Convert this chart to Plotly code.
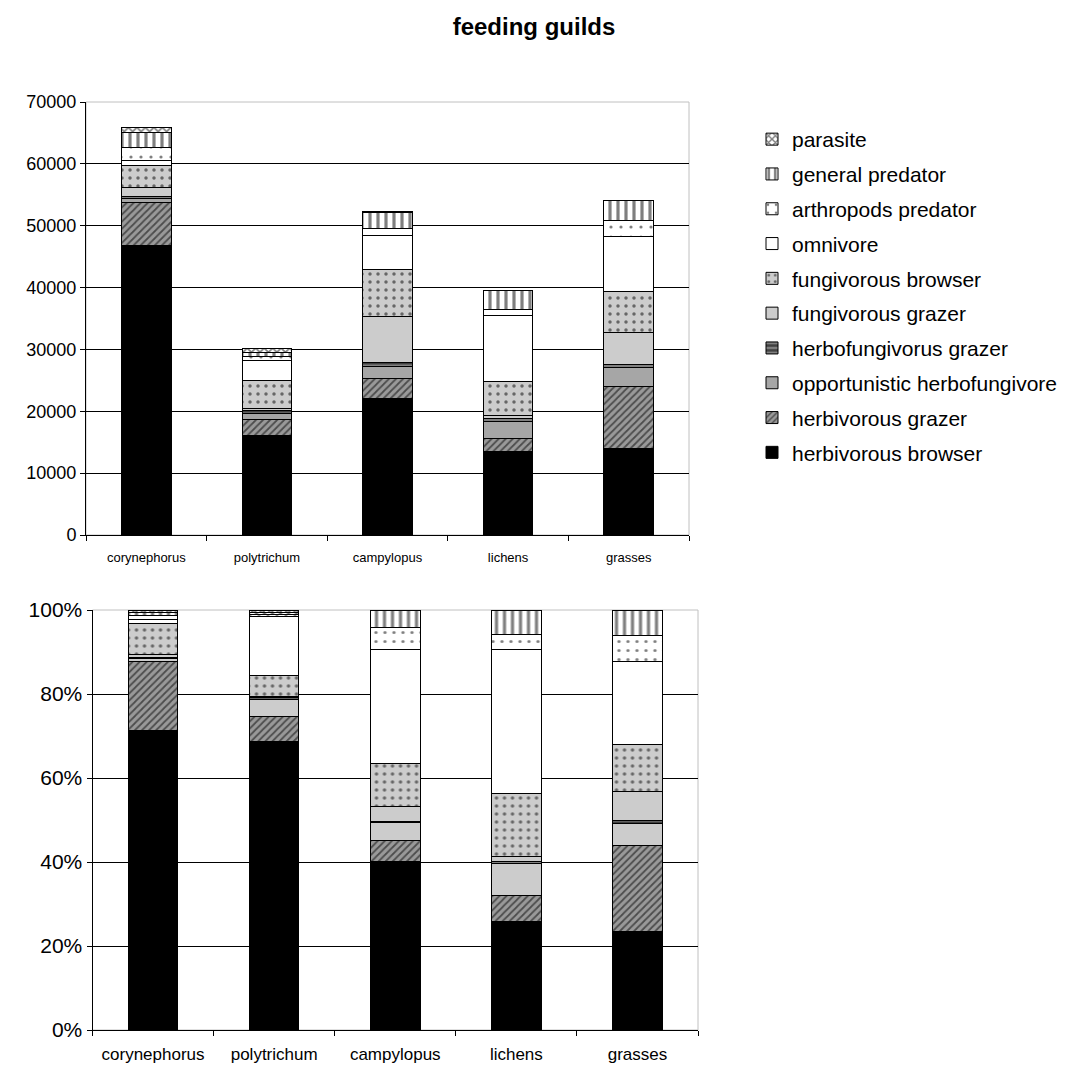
import plotly.graph_objects as go

sites = ["corynephorus", "polytrichum", "campylopus", "lichens", "grasses"]

guilds = ["herbivorous browser", "herbivorous grazer", "opportunistic herbofungivore",
          "herbofungivorus grazer", "fungivorous grazer", "fungivorous browser",
          "omnivore", "arthropods predator", "general predator", "parasite"]

# top panel: absolute values
top_herbivorous_browser = [46800, 16150, 22080, 13460, 14000]
top_herbivorous_grazer = [7000, 2540, 3230, 2150, 9960]
top_opportunistic = [550, 970, 1880, 2690, 3070]
top_herbofungivorus_grazer = [300, 500, 650, 540, 500]
top_fungivorous_grazer = [1500, 300, 7430, 430, 5160]
top_fungivorous_browser = [3600, 4460, 7700, 5490, 6730]
top_omnivore = [800, 3230, 5490, 10770, 8780]
top_arthropods_predator = [2050, 750, 1080, 915, 2690]
top_general_predator = [2500, 600, 2590, 3020, 3120]
top_parasite = [700, 600, 100, 50, 50]

# bottom panel: percentages
pct_herbivorous_browser = [71.4, 68.65, 40.1, 25.95, 23.4]
pct_herbivorous_grazer = [16.3, 5.95, 5.1, 6.05, 20.6]
pct_opportunistic = [0.8, 4.2, 4.2, 7.7, 5.2]
pct_herbofungivorus_grazer = [0.2, 0.3, 0.3, 0.4, 0.6]
pct_fungivorous_grazer = [0.7, 0.3, 3.5, 1.3, 7.1]
pct_fungivorous_browser = [7.4, 4.9, 10.3, 14.8, 11.0]
pct_omnivore = [1.0, 14.1, 27.2, 34.5, 19.8]
pct_arthropods_predator = [0.9, 0.6, 5.2, 3.5, 6.2]
pct_general_predator = [0.8, 0.5, 4.1, 5.8, 6.1]
pct_parasite = [0.5, 0.5, 0.0, 0.0, 0.0]

top_series = [top_herbivorous_browser, top_herbivorous_grazer, top_opportunistic,
              top_herbofungivorus_grazer, top_fungivorous_grazer, top_fungivorous_browser,
              top_omnivore, top_arthropods_predator, top_general_predator, top_parasite]
pct_series = [pct_herbivorous_browser, pct_herbivorous_grazer, pct_opportunistic,
              pct_herbofungivorus_grazer, pct_fungivorous_grazer, pct_fungivorous_browser,
              pct_omnivore, pct_arthropods_predator, pct_general_predator, pct_parasite]

top_ticks = [0, 10000, 20000, 30000, 40000, 50000, 60000, 70000]
top_tick_labels = ["0", "10000", "20000", "30000", "40000", "50000", "60000", "70000"]
pct_ticks = [0, 20, 40, 60, 80, 100]
pct_tick_labels = ["0%", "20%", "40%", "60%", "80%", "100%"]

styles = [
    dict(color="#000000", pattern=dict(shape="")),
    dict(color="#999999", pattern=dict(shape="/", fgcolor="#000000", bgcolor="#999999", size=5, solidity=0.35)),
    dict(color="#a6a6a6", pattern=dict(shape="")),
    dict(color="#808080", pattern=dict(shape="-", fgcolor="#000000", bgcolor="#808080", size=6, solidity=0.5)),
    dict(color="#cccccc", pattern=dict(shape="")),
    dict(color="#cccccc", pattern=dict(shape=".", fgcolor="#000000", bgcolor="#cccccc", size=8, solidity=0.15)),
    dict(color="#ffffff", pattern=dict(shape="")),
    dict(color="#ffffff", pattern=dict(shape=".", fgcolor="#000000", bgcolor="#ffffff", size=10, solidity=0.08)),
    dict(color="#ffffff", pattern=dict(shape="|", fgcolor="#000000", bgcolor="#ffffff", size=8, solidity=0.4)),
    dict(color="#ffffff", pattern=dict(shape="x", fgcolor="#000000", bgcolor="#ffffff", size=6, solidity=0.5)),
]

FONT = "Liberation Sans, Arial, sans-serif"
fig = go.Figure()

n = len(guilds)
for i, g in enumerate(guilds):
    st = styles[i]
    fig.add_trace(go.Bar(
        x=sites, y=top_series[i], name=g, legendgroup=g, showlegend=True, legendrank=n - i,
        marker=dict(color=st["color"], pattern=st["pattern"], line=dict(color="#000000", width=1)),
        xaxis="x", yaxis="y", width=0.41,
    ))

for i, g in enumerate(guilds):
    st = styles[i]
    color = st["color"]
    pattern = st["pattern"]
    if g == "opportunistic herbofungivore":
        color = "#cccccc"
    if g == "arthropods predator":
        pattern = dict(shape=".", fgcolor="#000000", bgcolor="#ffffff", size=9, solidity=0.1)
    fig.add_trace(go.Bar(
        x=sites, y=pct_series[i], name=g, legendgroup=g, showlegend=False,
        marker=dict(color=color, pattern=pattern, line=dict(color="#000000", width=1)),
        xaxis="x2", yaxis="y2", width=0.41,
    ))

W, H = 1071, 1065


def fx(p):
    return p / W


def fy(p):
    return 1 - p / H


def ax(size_tick):
    return dict(showline=True, linecolor="#000000", linewidth=1, ticks="outside",
                ticklen=5, tickcolor="#000000", automargin=False,
                tickfont=dict(family=FONT, size=size_tick, color="#000000"))


fig.update_layout(
    width=W, height=H, barmode="stack",
    margin=dict(l=0, r=0, t=0, b=0, pad=0, autoexpand=False),
    paper_bgcolor="#ffffff", plot_bgcolor="#ffffff",
    font=dict(family=FONT, color="#000000"),
    title=dict(text="<b>feeding guilds</b>", x=fx(534), xanchor="center", y=fy(27), yanchor="middle",
               font=dict(family=FONT, size=24, color="#000000")),
    xaxis=dict(domain=[fx(86), fx(689)], anchor="y", type="category", tickson="boundaries",
               showgrid=False, ticklabelstandoff=10, **ax(13)),
    yaxis=dict(domain=[fy(535), fy(102)], anchor="x", range=[0, 70000],
               tickvals=top_ticks, ticktext=top_tick_labels,
               showgrid=True, gridcolor="#000000", gridwidth=1, zeroline=False, **ax(18)),
    xaxis2=dict(domain=[fx(92.5), fx(698)], anchor="y2", type="category", tickson="boundaries",
                showgrid=False, ticklabelstandoff=9, **ax(17)),
    yaxis2=dict(domain=[fy(1030), fy(610)], anchor="x2", range=[0, 100],
                tickvals=pct_ticks, ticktext=pct_tick_labels,
                showgrid=True, gridcolor="#000000", gridwidth=1, zeroline=False, **ax(21)),
    legend=dict(x=fx(752), xanchor="left", y=fy(119), yanchor="top",
                traceorder="grouped", tracegroupgap=4.5,
                font=dict(family=FONT, size=21, color="#000000"),
                bgcolor="rgba(0,0,0,0)", itemwidth=30),
    shapes=[
        dict(type="rect", xref="x domain", yref="y domain", x0=0, x1=1, y0=0, y1=1,
             line=dict(color="#c0c0c0", width=1), layer="below"),
        dict(type="rect", xref="x2 domain", yref="y2 domain", x0=0, x1=1, y0=0, y1=1,
             line=dict(color="#c0c0c0", width=1), layer="below"),
    ],
)

fig.write_html("out.html", config={"displayModeBar": False},
               post_script="document.body.style.margin='0';document.body.style.overflow='hidden';")
